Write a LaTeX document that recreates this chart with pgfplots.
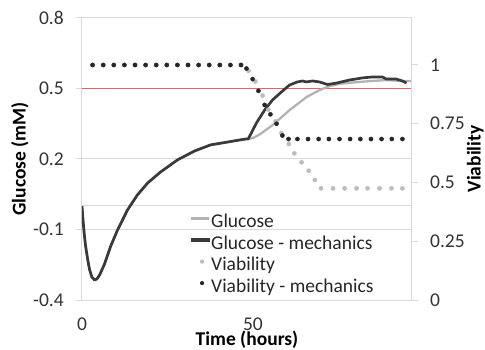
\documentclass[border=0pt]{standalone}
\usepackage{fontspec}
\setmainfont{Carlito}
\usepackage{pgfplots}
\pgfplotsset{compat=1.18}
\definecolor{gridc}{RGB}{217,217,217}
\definecolor{darkl}{RGB}{58,58,58}
\definecolor{lightl}{RGB}{178,178,178}
\definecolor{darkd}{RGB}{38,38,38}
\definecolor{lightd}{RGB}{188,188,188}
\definecolor{redl}{RGB}{232,95,105}
\newcommand{\fs}{\fontsize{19.5bp}{23bp}\selectfont}

\begin{document}
\begin{tikzpicture}
\path[use as bounding box] (-82bp,-50bp) rectangle (403bp,300bp);
\begin{axis}[
  at={(0,0)}, anchor=south west,
  scale only axis, width=330bp, height=282bp,
  xmin=0, xmax=96.5, ymin=-0.4, ymax=0.8,
  xtick={0,50}, xticklabels={0,50},
  ytick={-0.4,-0.1,0.2,0.5,0.8}, yticklabels={-0.4,-0.1,0.2,0.5,0.8},
  ymajorgrids, major grid style={gridc, line width=1bp},
  axis line style={-, gridc, line width=1bp},
  tick align=outside, major tick length=6bp,
  ytick pos=left, xtick pos=bottom,
  xtick style={draw=none},
  ytick style={gridc, line width=1bp},
  tick label style={font=\fs, text=black!80, inner sep=0pt},
  yticklabel style={xshift=-12bp},
  xticklabel style={yshift=-12bp},
  extra y ticks={0}, extra y tick labels={},
  extra y tick style={grid=major, major tick length=0pt},
  xlabel={Time (hours)}, ylabel={Glucose (mM)},
  label style={font=\fs\bfseries},
  xlabel style={at={(axis description cs:0.5,-0.161)}, anchor=base},
  ylabel style={at={(axis description cs:-0.188,0.5)}, anchor=center},
]
% red reference line
\addplot[redl, line width=1bp] coordinates {(0,0.5) (96.5,0.5)};
% Glucose
\addplot[lightl, line width=2.3bp, line join=round] coordinates {
(0,0.0) (0.3,-0.06) (0.6,-0.11) (1.0,-0.165) (1.6,-0.222) (2.2,-0.27) (2.9,-0.303)
(3.7,-0.315) (4.4,-0.31) (5.2,-0.292) (6.5,-0.25) (7.4,-0.213)
(8.3,-0.174) (10.4,-0.102) (13.3,-0.017) (16.2,0.047) (19.2,0.098) (23.0,0.145)
(27.9,0.196) (32.9,0.234) (37.6,0.26) (42.5,0.272) (47.8,0.285) (48.6,0.285)
(50.1,0.29) (52.0,0.305) (55.8,0.345) (60.7,0.408) (65.7,0.464) (69.6,0.494)
(72.4,0.51) (75.3,0.52) (80.3,0.527) (84.9,0.532) (89.0,0.536) (93.7,0.532) (96.3,0.532)
};
% Glucose - mechanics
\addplot[darkl, line width=2.7bp, line join=round] coordinates {
(0,0.0) (0.3,-0.06) (0.6,-0.11) (1.0,-0.165) (1.6,-0.222) (2.2,-0.27) (2.9,-0.303)
(3.7,-0.315) (4.4,-0.31) (5.2,-0.292) (6.5,-0.25) (7.4,-0.213)
(8.3,-0.174) (10.4,-0.102) (13.3,-0.017) (16.2,0.047) (19.2,0.098) (23.0,0.145)
(27.9,0.196) (32.9,0.234) (37.6,0.26) (42.5,0.272) (47.8,0.285) (48.6,0.285)
(51.0,0.353) (53.4,0.408) (55.7,0.451) (58.3,0.485) (60.7,0.515) (63.0,0.528)
(64.5,0.532) (65.6,0.528) (67.4,0.532) (69.4,0.528) (71.8,0.517) (74.4,0.523)
(78.2,0.536) (82.0,0.545) (84.9,0.549) (87.9,0.549) (89.0,0.540) (91.9,0.540)
(93.7,0.532) (94.9,0.523)
};
\end{axis}
\begin{axis}[
  at={(0,0)}, anchor=south west,
  scale only axis, width=330bp, height=282bp,
  xmin=0, xmax=96.5, ymin=0, ymax=1.2,
  axis x line=none, axis y line*=right,
  ytick={0,0.25,0.5,0.75,1}, yticklabels={0,0.25,0.5,0.75,1},
  axis line style={-, gridc, line width=1bp},
  tick align=outside, major tick length=6bp,
  ytick style={gridc, line width=1bp},
  tick label style={font=\fs, text=black!80, inner sep=0pt},
  yticklabel style={xshift=12bp, anchor=west},
  ylabel={Viability},
  ylabel style={at={(axis description cs:1.192,0.5)}, anchor=center, font=\fs\bfseries},
  legend cell align=left,
  legend style={draw=none, fill=none, at={(rel axis cs:0.327,0.309)}, anchor=north west,
    inner sep=0pt, outer sep=0pt, row sep=0pt, column sep=1bp,
    nodes={inner sep=0pt, text height=15bp, text depth=6.5bp, font=\fs, text=black!85}},
]
\addlegendimage{legend image code/.code={\path[draw=none,fill=none] (0,0) rectangle (18bp,5bp); \draw[lightl, line width=2.3bp] (0bp,5bp) -- (18bp,5bp);}}
\addlegendentry{Glucose}
\addlegendimage{legend image code/.code={\path[draw=none,fill=none] (0,0) rectangle (18bp,5bp); \fill[darkl] (0bp,3.5bp) rectangle (18bp,6.5bp);}}
\addlegendentry{Glucose - mechanics}
% Viability
\addplot[only marks, mark=*, mark size=2.1bp, lightd,
  legend image code/.code={\path[draw=none,fill=none] (0,0) rectangle (18bp,5bp); \fill[lightd, draw=none] (11bp,5bp) circle (2.1bp);}]
coordinates {
(3.1,1) (6.2,1) (9.3,1) (12.4,1) (15.5,1) (18.6,1) (21.7,1) (24.8,1) (27.9,1) (31.0,1)
(34.1,1) (37.2,1) (40.3,1) (43.4,1) (46.5,1)
(48.7,0.975) (50.7,0.93) (52.8,0.87) (54.5,0.81) (56.6,0.76) (58.3,0.71)
(60.5,0.664) (62.1,0.624) (64.2,0.586) (66.3,0.55) (68.1,0.511) (69.9,0.475)
(73.4,0.475) (76.8,0.475) (80.3,0.475) (83.5,0.475) (87.0,0.475) (90.5,0.475) (93.7,0.475)
};
\addlegendentry{Viability}
% Viability - mechanics
\addplot[only marks, mark=*, mark size=2.1bp, darkd,
  legend image code/.code={\path[draw=none,fill=none] (0,0) rectangle (18bp,5bp); \fill[darkd, draw=none] (11bp,5bp) circle (2.1bp);}]
coordinates {
(3.1,1) (6.2,1) (9.3,1) (12.4,1) (15.5,1) (18.6,1) (21.7,1) (24.8,1) (27.9,1) (31.0,1)
(34.1,1) (37.2,1) (40.3,1) (43.4,1) (46.5,1)
(48.1,0.985) (49.9,0.94) (51.6,0.89) (53.4,0.83) (55.1,0.79) (56.9,0.75) (58.6,0.70) (60.4,0.685)
(63.0,0.685) (66.1,0.685) (69.2,0.685) (72.2,0.685) (75.3,0.685) (78.4,0.685) (81.4,0.685)
(84.5,0.685) (87.6,0.685) (90.6,0.685) (93.7,0.685)
};
\addlegendentry{Viability - mechanics}
\end{axis}
\end{tikzpicture}
\end{document}
